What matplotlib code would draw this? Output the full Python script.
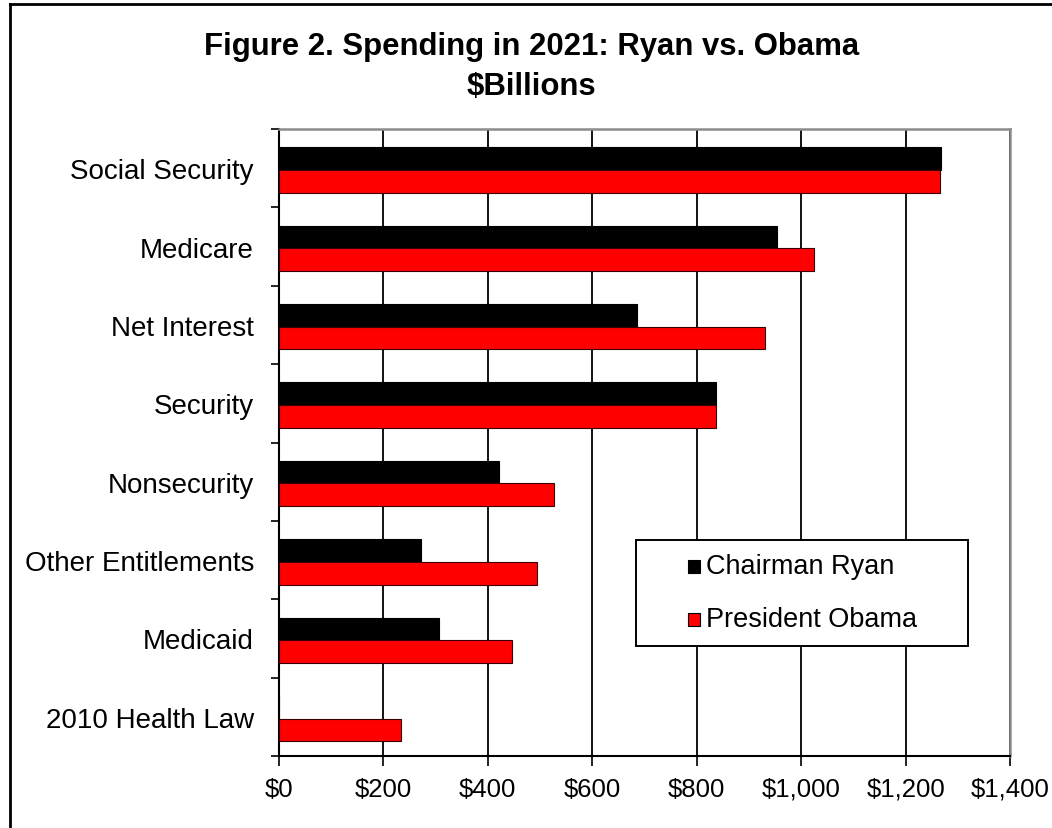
import numpy as np
import matplotlib.pyplot as plt
from matplotlib.lines import Line2D
from matplotlib.patches import Rectangle
from matplotlib.ticker import FuncFormatter, MultipleLocator

categories = ["Social Security", "Medicare", "Net Interest", "Security",
              "Nonsecurity", "Other Entitlements", "Medicaid", "2010 Health Law"]
ryan = [1267, 953, 686, 837, 422, 271, 307, 0]
obama = [1265, 1025, 931, 837, 527, 494, 446, 233]
series_names = ["Chairman Ryan", "President Obama"]
colors = ['black', '#ff0000']

plt.rcParams['font.family'] = ['Liberation Sans', 'DejaVu Sans']

W, H = 1052, 829
fig = plt.figure(figsize=(W / 100, H / 100), dpi=100)
ax = fig.add_axes([279 / W, 1 - 757 / H, 731 / W, 627 / H])

y = np.arange(len(categories))
h = 0.29
mid = 0.023
ax.barh(y + mid - h / 2, ryan, height=h, color=colors[0], edgecolor='black', lw=0.8, zorder=3)
ax.barh(y + mid + h / 2, obama, height=h, color=colors[1], edgecolor='#3a0000', lw=0.8, zorder=3)

ax.set_xlim(0, 1400)
ax.set_ylim(len(categories) - 0.5, -0.5)

# x axis
ax.xaxis.set_major_locator(MultipleLocator(200))
ax.xaxis.set_major_formatter(FuncFormatter(lambda v, p: "${:,.0f}".format(v)))
ax.tick_params(axis='x', length=7, width=1.2, pad=8, labelsize=18.5, direction='out')
ax.grid(axis='x', color='black', lw=1.3, zorder=1)

# y axis: labels at centres, ticks at boundaries
ax.set_yticks(y)
ax.set_yticklabels(categories)
ax.set_yticks(np.arange(len(categories) + 1) - 0.5, minor=True)
ax.tick_params(axis='y', which='major', length=0, pad=18, labelsize=20)
ax.tick_params(axis='y', which='minor', length=6, width=1.2, direction='out')

for s in ['left', 'bottom']:
    ax.spines[s].set_color('black')
    ax.spines[s].set_linewidth(1.5)
for s in ['top', 'right']:
    ax.spines[s].set_color('#8c8c8c')
    ax.spines[s].set_linewidth(1.8)

# legend box drawn by hand (Excel style, wide padding)
ax.add_patch(Rectangle((636 / W, 1 - 647 / H), 332 / W, 106 / H, transform=fig.transFigure,
                       facecolor='white', edgecolor='black', lw=1.4, zorder=5, clip_on=False))
for i, (name, c) in enumerate(zip(series_names, colors)):
    yc = 1 - (567 + 53 * i) / H
    ax.add_patch(Rectangle((688 / W, yc - 6.5 / H), 12 / W, 13 / H, transform=fig.transFigure,
                           facecolor=c, edgecolor='black', lw=0.8, zorder=6, clip_on=False))
    fig.text(706 / W, yc, name, ha='left', va='center', fontsize=19.5, zorder=7)

fig.text(0.505, 1 - 47 / H, "Figure 2. Spending in 2021: Ryan vs. Obama",
         ha='center', va='center', fontsize=22.4, fontweight='bold')
fig.text(0.505, 1 - 87 / H, "$Billions",
         ha='center', va='center', fontsize=22.4, fontweight='bold')

# outer frame (cropped on right/bottom)
fig.add_artist(Line2D([10 / W, 10 / W], [-0.1, 1 - 5 / H],
                      transform=fig.transFigure, color='black', lw=2))
fig.add_artist(Line2D([10 / W, 1.1], [1 - 5 / H, 1 - 5 / H],
                      transform=fig.transFigure, color='black', lw=2))

fig.savefig("out.png", dpi=100)
